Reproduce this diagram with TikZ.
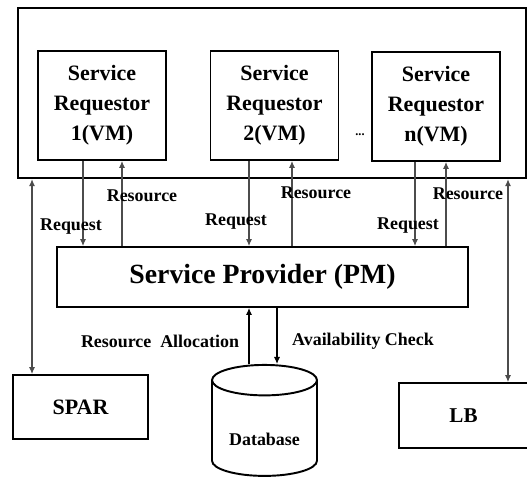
\documentclass[tikz,border=0pt]{standalone}
\usepackage{fontspec}
\setmainfont{Liberation Serif}
\usetikzlibrary{shapes.geometric, arrows.meta, positioning}

\begin{document}
\begin{tikzpicture}[x=0.02cm, y=-0.02cm, font=\bfseries,
  box/.style={draw, line width=1.1pt, align=center, inner sep=0pt},
  lbl/.style={font=\fontsize{10.2}{12}\selectfont\bfseries},
  arr/.style={-{Latex[length=4pt,width=3.5pt]}, gray!60!black, line width=0.6pt},
  dbl/.style={{Latex[length=4pt,width=3.5pt]}-{Latex[length=4pt,width=3.5pt]}, gray!60!black, line width=0.6pt},
  dbarr/.style={-{Latex[length=4pt,width=3.5pt]}, line width=0.6pt}]
\useasboundingbox (0,0) rectangle (527,477);

% virtual machines
\node[box, line width=1.4pt, minimum width=10.16cm, minimum height=3.4cm] (vms) at (272,93) {};
\node[box, minimum width=2.56cm, minimum height=2.18cm,
  font=\fontsize{12.5}{17}\selectfont\bfseries] (sr1) at (102,105.5) {Service\\Requestor\\1(VM)};
\node[box, minimum width=2.56cm, minimum height=2.18cm,
  font=\fontsize{12.5}{17}\selectfont\bfseries] (sr2) at (274.5,105.5) {Service\\Requestor\\2(VM)};
\node[box, minimum width=2.56cm, minimum height=2.18cm,
  font=\fontsize{12.5}{17}\selectfont\bfseries] (srn) at (436,106.5) {Service\\Requestor\\n(VM)};
\node[font=\fontsize{7}{8}\selectfont\bfseries] (dots) at (360,135) {...};

% provider and the rest
\node[box, minimum width=8.22cm, minimum height=1.2cm,
  font=\fontsize{15.8}{18}\selectfont\bfseries] (sp) at (262.5,277) {Service Provider (PM)};
\node[box, minimum width=2.7cm, minimum height=1.28cm,
  font=\fontsize{12.5}{15}\selectfont\bfseries] (spar) at (80.5,407) {SPAR};
\node[box, minimum width=2.58cm, minimum height=1.3cm,
  font=\fontsize{12}{15}\selectfont\bfseries] (lb) at (463.5,415.5) {LB};
\node[cylinder, draw, line width=1.1pt, shape border rotate=90, aspect=2.6,
  minimum width=2.1cm, minimum height=2.22cm] (db) at (264.5,432) {};
\node[lbl] (dbtext) at (264.5,439) {Database};

% request / resource
\draw[arr] ([xshift=-0.38cm]sr1.south) -- ([xshift=-0.38cm]sr1.south |- sp.north);
\draw[arr] ([xshift=0.4cm]sr1.south |- sp.north) -- ([xshift=0.4cm]sr1.south);
\draw[arr] ([xshift=-0.51cm]sr2.south) -- ([xshift=-0.51cm]sr2.south |- sp.north);
\draw[arr] ([xshift=0.35cm]sr2.south |- sp.north) -- ([xshift=0.35cm]sr2.south);
\draw[arr] ([xshift=-0.42cm]srn.south) -- ([xshift=-0.42cm]srn.south |- sp.north);
\draw[arr] ([xshift=0.2cm]srn.south |- sp.north) -- ([xshift=0.2cm]srn.south);

\node[lbl] (res1) at (142,196) {Resource};
\node[lbl] (res2) at (316,193) {Resource};
\node[lbl] (res3) at (468,194) {Resource};
\node[lbl] (req1) at (71,227) {Request};
\node[lbl] (req2) at (236,222) {Request};
\node[lbl] (req3) at (408,226) {Request};

% side links
\draw[dbl] ([xshift=-0.97cm]spar.north |- vms.south) -- ([xshift=-0.97cm]spar.north);
\draw[dbl] ([xshift=0.89cm]lb.north |- vms.south) -- ([xshift=0.89cm]lb.north);

% database
\draw[dbarr] ([xshift=-0.31cm]db.top) -- ([xshift=-0.31cm]db.top |- sp.south);
\draw[dbarr] ([xshift=0.25cm]db.top |- sp.south) -- ([xshift=0.25cm]db.top);
\node[lbl] (alloc) at (160,341) {Resource\ \ Allocation};
\node[lbl] (check) at (363,341) {Availability Check};
\end{tikzpicture}
\end{document}
